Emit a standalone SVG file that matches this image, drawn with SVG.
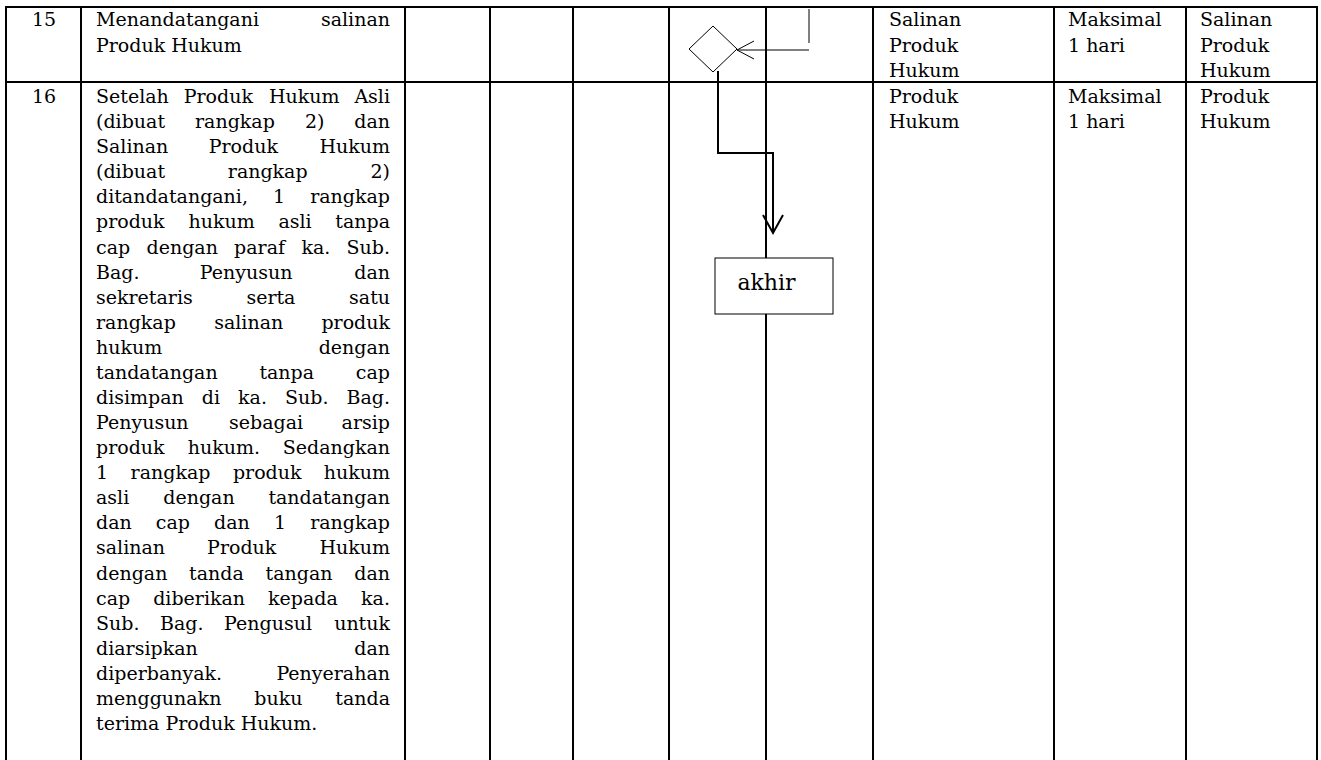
<svg xmlns="http://www.w3.org/2000/svg" width="1321" height="760" viewBox="0 0 1321 760">
<style>
.grid line{stroke:#000;stroke-width:2}
.t{font-family:"DejaVu Serif","Liberation Serif",serif;font-size:19px;fill:#000}
.e{text-anchor:end}
.c{text-anchor:middle}
.thin{fill:none;stroke:#000;stroke-width:1}
.thick{fill:none;stroke:#000;stroke-width:2}
</style>
<rect width="1321" height="760" fill="#fff"/>
<g id="grid" class="grid">
<line x1="5" y1="7" x2="1318" y2="7"/>
<line x1="5" y1="82" x2="1318" y2="82"/>
<line x1="6" y1="6" x2="6" y2="760"/>
<line x1="81" y1="6" x2="81" y2="760"/>
<line x1="405" y1="6" x2="405" y2="760"/>
<line x1="490" y1="6" x2="490" y2="760"/>
<line x1="573" y1="6" x2="573" y2="760"/>
<line x1="669" y1="6" x2="669" y2="760"/>
<line x1="766" y1="6" x2="766" y2="760"/>
<line x1="873" y1="6" x2="873" y2="760"/>
<line x1="1054" y1="6" x2="1054" y2="760"/>
<line x1="1186" y1="6" x2="1186" y2="760"/>
<line x1="1317" y1="6" x2="1317" y2="760"/>
</g>
<g id="row15" class="t">
<text x="44" y="26" class="c">15</text>
<text y="26"><tspan x="96">Menandatangani</tspan><tspan x="390" class="e">salinan</tspan></text>
<text x="96" y="52">Produk Hukum</text>
<text x="889" y="26">Salinan</text>
<text x="889" y="51.5">Produk</text>
<text x="889" y="77">Hukum</text>
<text x="1068" y="26">Maksimal</text>
<text x="1068" y="51.5">1 hari</text>
<text x="1200" y="26">Salinan</text>
<text x="1200" y="51.5">Produk</text>
<text x="1200" y="77">Hukum</text>
</g>
<g id="row16" class="t">
<text x="44" y="103" class="c">16</text>
<text y="103"><tspan x="96">Setelah</tspan><tspan x="183.7">Produk</tspan><tspan x="269">Hukum</tspan><tspan x="390" class="e">Asli</tspan></text>
<text y="128.1"><tspan x="96">(dibuat</tspan><tspan x="195">rangkap</tspan><tspan x="304.9">2)</tspan><tspan x="390" class="e">dan</tspan></text>
<text y="153.2"><tspan x="96">Salinan</tspan><tspan x="208.7">Produk</tspan><tspan x="390" class="e">Hukum</tspan></text>
<text y="178.2"><tspan x="96">(dibuat</tspan><tspan x="227.8">rangkap</tspan><tspan x="390" class="e">2)</tspan></text>
<text y="203.3"><tspan x="96">ditandatangani,</tspan><tspan x="272.9">1</tspan><tspan x="390" class="e">rangkap</tspan></text>
<text y="228.4"><tspan x="96">produk</tspan><tspan x="188.5">hukum</tspan><tspan x="278.4">asli</tspan><tspan x="390" class="e">tanpa</tspan></text>
<text y="253.5"><tspan x="96">cap</tspan><tspan x="146.5">dengan</tspan><tspan x="234.1">paraf</tspan><tspan x="301.4">ka.</tspan><tspan x="390" class="e">Sub.</tspan></text>
<text y="278.6"><tspan x="96">Bag.</tspan><tspan x="199.8">Penyusun</tspan><tspan x="390" class="e">dan</tspan></text>
<text y="303.6"><tspan x="96">sekretaris</tspan><tspan x="246.4">serta</tspan><tspan x="390" class="e">satu</tspan></text>
<text y="328.7"><tspan x="96">rangkap</tspan><tspan x="214.2">salinan</tspan><tspan x="390" class="e">produk</tspan></text>
<text y="353.8"><tspan x="96">hukum</tspan><tspan x="390" class="e">dengan</tspan></text>
<text y="378.9"><tspan x="96">tandatangan</tspan><tspan x="259.4">tanpa</tspan><tspan x="390" class="e">cap</tspan></text>
<text y="404"><tspan x="96">disimpan</tspan><tspan x="201.8">di</tspan><tspan x="238.1">ka.</tspan><tspan x="285.1">Sub.</tspan><tspan x="390" class="e">Bag.</tspan></text>
<text y="429"><tspan x="96">Penyusun</tspan><tspan x="229">sebagai</tspan><tspan x="390" class="e">arsip</tspan></text>
<text y="454.1"><tspan x="96">produk</tspan><tspan x="187.7">hukum.</tspan><tspan x="390" class="e">Sedangkan</tspan></text>
<text y="479.2"><tspan x="96">1</tspan><tspan x="130.6">rangkap</tspan><tspan x="232.9">produk</tspan><tspan x="390" class="e">hukum</tspan></text>
<text y="504.3"><tspan x="96">asli</tspan><tspan x="163.3">dengan</tspan><tspan x="390" class="e">tandatangan</tspan></text>
<text y="529.4"><tspan x="96">dan</tspan><tspan x="155.8">cap</tspan><tspan x="214.1">dan</tspan><tspan x="273.9">1</tspan><tspan x="390" class="e">rangkap</tspan></text>
<text y="554.4"><tspan x="96">salinan</tspan><tspan x="207.1">Produk</tspan><tspan x="390" class="e">Hukum</tspan></text>
<text y="579.5"><tspan x="96">dengan</tspan><tspan x="189.1">tanda</tspan><tspan x="265.6">tangan</tspan><tspan x="390" class="e">dan</tspan></text>
<text y="604.6"><tspan x="96">cap</tspan><tspan x="153.2">diberikan</tspan><tspan x="268.1">kepada</tspan><tspan x="390" class="e">ka.</tspan></text>
<text y="629.7"><tspan x="96">Sub.</tspan><tspan x="160">Bag.</tspan><tspan x="224.1">Pengusul</tspan><tspan x="390" class="e">untuk</tspan></text>
<text y="654.8"><tspan x="96">diarsipkan</tspan><tspan x="390" class="e">dan</tspan></text>
<text y="679.8"><tspan x="96">diperbanyak.</tspan><tspan x="390" class="e">Penyerahan</tspan></text>
<text y="704.9"><tspan x="96">menggunakn</tspan><tspan x="254.3">buku</tspan><tspan x="390" class="e">tanda</tspan></text>
<text x="96" y="730">terima Produk Hukum.</text>
<text x="889" y="103">Produk</text>
<text x="889" y="128">Hukum</text>
<text x="1068" y="103">Maksimal</text>
<text x="1068" y="128">1 hari</text>
<text x="1200" y="103">Produk</text>
<text x="1200" y="128">Hukum</text>
</g>
<g id="connectors">
<line class="thin" x1="809" y1="9" x2="809" y2="43"/>
<line class="thin" x1="809" y1="50" x2="737" y2="50"/>
<path class="thin" d="M754,41 L737,50 L754,59"/>
<path class="thick" d="M718,71 V153 H773 V232"/>
<path class="thick" d="M763,215 L773,233 L783,215"/>
</g>
<g id="decision">
<polygon class="thin" points="713,26 737,49 713,72 689,49" fill="#fff"/>
</g>
<g id="akhir">
<rect x="715" y="258" width="118" height="56" fill="#fff" stroke="#000" stroke-width="1"/>
<text x="766.5" y="290" class="t c" style="font-size:22px">akhir</text>
</g>
</svg>
